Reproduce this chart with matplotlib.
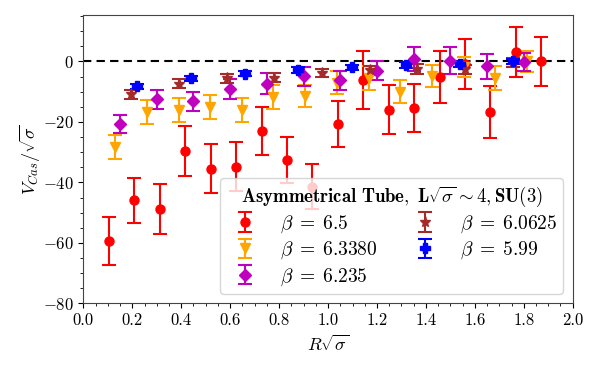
import matplotlib
matplotlib.use("Agg")
import matplotlib.pyplot as plt
import numpy as np
from matplotlib.ticker import MultipleLocator

plt.rcParams['font.family'] = 'serif'
plt.rcParams['font.serif'] = ['cmr10']
plt.rcParams['mathtext.fontset'] = 'cm'
plt.rcParams['axes.formatter.use_mathtext'] = True
plt.rcParams['font.size'] = 12

### Data
r_65 = [0.104, 0.208, 0.312, 0.416, 0.520, 0.624, 0.728, 0.832, 0.936,
        1.040, 1.144, 1.248, 1.352, 1.456, 1.560, 1.664, 1.768, 1.872]
v_65 = [-59.4, -45.9, -48.8, -29.7, -35.5, -34.9, -23.0, -32.7, -41.4,
        -20.8, -6.2, -15.9, -15.3, -5.3, -0.8, -16.7, 3.2, 0.0]
e_65 = [8.0, 7.5, 8.2, 8.2, 8.1, 8.1, 8.0, 7.6, 7.4,
        7.6, 9.6, 8.0, 8.0, 8.6, 8.3, 8.6, 8.3, 8.1]

r_6338 = [0.130, 0.259, 0.389, 0.518, 0.648, 0.777, 0.907, 1.036,
          1.166, 1.295, 1.425, 1.554, 1.684, 1.813]
v_6338 = [-28.4, -16.7, -16.1, -15.0, -16.1, -11.7, -11.4, -7.1,
          -5.6, -10.0, -4.9, -1.8, -5.6, 0.0]
e_6338 = [4.0, 4.0, 4.0, 4.0, 4.0, 4.0, 3.6, 3.8,
          4.0, 3.8, 3.7, 3.3, 4.0, 3.4]

r_6235 = [0.150, 0.300, 0.450, 0.600, 0.750, 0.900,
          1.050, 1.200, 1.350, 1.500, 1.650, 1.800]
v_6235 = [-20.8, -12.5, -13.2, -9.0, -7.3, -4.9,
          -6.2, -3.0, 0.8, 0.2, -1.6, -0.1]
e_6235 = [3.0, 3.2, 3.2, 3.3, 3.4, 3.2,
          3.2, 3.0, 4.1, 4.5, 4.2, 3.0]

r_60625 = [0.195, 0.390, 0.585, 0.780, 0.975, 1.170, 1.365, 1.560, 1.755]
v_60625 = [-10.9, -7.3, -5.6, -5.4, -3.8, -2.9, -2.5, -2.6, -0.3]
e_60625 = [1.4, 1.4, 1.4, 1.5, 1.3, 1.5, 1.5, 1.5, 1.5]

r_599 = [0.220, 0.440, 0.659, 0.879, 1.099, 1.318, 1.538, 1.758]
v_599 = [-8.2, -5.6, -4.0, -2.9, -2.0, -1.2, -0.9, 0.0]
e_599 = [0.9, 0.9, 0.9, 0.9, 0.9, 0.9, 0.9, 0.9]

fig = plt.figure(figsize=(6, 3.7), dpi=100)
ax = fig.add_axes([0.139, 0.180, 0.8155, 0.779])

### Zero line
ax.axhline(0, color='black', linestyle='--', linewidth=1.5, dashes=(4, 2.5), zorder=1)

kw = dict(linestyle='none', capsize=5, elinewidth=1.5, capthick=1.5, markersize=6.5)
ax.errorbar(r_65, v_65, yerr=e_65, fmt='o', color='red', label=r'$\beta\;=\;6.5$', **kw)
ax.errorbar(r_6338, v_6338, yerr=e_6338, fmt='v', color='orange', label=r'$\beta\;=\;6.3380$', **kw)
ax.errorbar(r_6235, v_6235, yerr=e_6235, fmt='D', color='m', label=r'$\beta\;=\;6.235$', **kw)
ax.errorbar(r_60625, v_60625, yerr=e_60625, fmt='*', color='brown', label=r'$\beta\;=\;6.0625$',
            **dict(kw, markersize=8))
ax.errorbar(r_599, v_599, yerr=e_599, fmt='P', color='blue', label=r'$\beta\;=\;5.99$', **kw)

### Axes
ax.set_xlim(0, 2.0)
ax.set_ylim(-80, 15.3)
ax.xaxis.set_major_locator(MultipleLocator(0.2))
ax.xaxis.set_minor_locator(MultipleLocator(0.05))
ax.yaxis.set_major_locator(MultipleLocator(20))
ax.yaxis.set_minor_locator(MultipleLocator(5))
ax.xaxis.set_major_formatter(matplotlib.ticker.FormatStrFormatter('%.1f'))
ax.tick_params(which='both', right=False, top=False)

ax.set_xlabel(r'$R\sqrt{\sigma}$', fontsize=13)
ax.set_ylabel(r'$V_{Cas}/\sqrt{\sigma}$', fontsize=13, labelpad=0)

for s in ax.spines.values():
    s.set_color('#444444')

leg = ax.legend(ncol=2, loc='lower right', borderaxespad=0.5,
                title=r'$\mathbf{Asymmetrical\ Tube,\ L\sqrt{\sigma}\sim 4, SU(3)}$',
                fontsize=14, labelspacing=0.25, borderpad=0.3, columnspacing=1.4)
leg.get_title().set_fontsize(13.5)

fig.savefig('out.png', dpi=100)
